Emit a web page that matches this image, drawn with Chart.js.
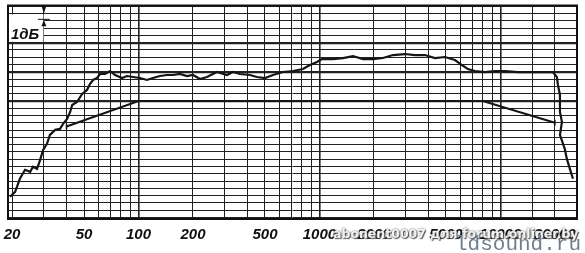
<!DOCTYPE html>
<html><head><meta charset="utf-8">
<script src="https://cdn.jsdelivr.net/npm/chart.js@4"></script>
<style>
html,body{margin:0;padding:0;background:#fff;}
#wrap{position:relative;width:585px;height:253px;overflow:hidden;}
canvas{display:block;}
.wm{position:absolute;white-space:nowrap;}
#wm1{left:333px;top:226px;font:bold 12.5px "DejaVu Sans",sans-serif;color:rgba(255,255,255,0.92);text-shadow:0 0 2px #444,1px 1px 1px #555;}
#wm2{left:455px;top:233px;font:21px "Liberation Mono","DejaVu Sans Mono",monospace;color:#6f7f8f;}
</style></head><body>
<div id="wrap"><canvas id="c" width="585" height="253"></canvas>
<div class="wm" id="wm1">abonent0007 для forum.onliner.by</div>
<div class="wm" id="wm2">ldsound.ru</div></div>
<script>
// Measured frequency response (Hz, dB)
const responseFreq = [19.5,20.8,22.1,23.6,25.2,26.1,27.5,28.6,29.7,31.2,32.4,34.6,36.8,38.3,40.3,41.9,43.0,45.7,48.8,51.9,53.9,56.1,59.0,61.3,65.3,69.6,74.2,81.1,86.4,93.3,101.9,111.4,120.2,131.4,143.6,155.1,169.5,185.3,200,218.8,238.8,271.4,308.3,332.6,363.8,413,451.6,500,553.4,628.3,713.6,810.5,886.7,968.9,1032,1188,1349,1532,1740,1976,2244,2548,2967,3370,3828,4347,4937,5607,6128,6611,7228,8210,9325,10590,12500,14930,17620,19500,20510,20800,21330,21330,21880,21330,22680,23300,24210,25170];
const responseDb = [-13.15,-12.47,-10.68,-9.45,-9.73,-9.04,-9.32,-8.08,-6.71,-5.89,-4.66,-3.97,-3.84,-3.15,-2.47,-1.51,-0.55,-0.14,0.96,1.51,2.33,2.88,3.15,3.70,3.70,4.11,3.56,3.15,3.42,3.29,3.15,2.88,3.15,3.42,3.56,3.56,3.70,3.42,3.56,3.01,3.29,3.97,3.56,3.97,3.70,3.56,3.29,3.15,3.56,3.97,4.11,4.38,4.93,5.34,5.75,5.75,5.89,6.16,5.75,5.75,5.89,6.30,6.44,6.30,6.30,5.89,6.03,5.62,4.93,4.38,4.11,3.97,4.11,4.11,3.97,3.97,3.97,3.97,3.29,2.19,0.82,-1.51,-2.88,-4.66,-6.58,-7.95,-9.32,-10.68];
// Tolerance template
const limitFreq = [40,100,8000,20000];
const limitDb = [-3.5,0,0,-3];
// Axes
const gridFreqs = [20,30,40,50,60,70,80,90,100,200,300,400,500,600,700,800,900,1000,2000,3000,4000,5000,6000,7000,8000,9000,10000,15000,20000];
const labelFreqs = [20,50,100,200,500,1000,2000,5000,10000,20000];
const heavyFreqs = [100,1000,10000];
const dbTicks = [-16,-15,-14,-13,-12,-11,-10,-9,-8,-7,-6,-5,-4,-3,-2,-1,0,1,2,3,4,5,6,7,8,9,10,11,12,13];
const thickDb = [0,4,8];
const scaleLabel = '1дБ';
const freqMin = 19, freqMax = 26500, dbMin = -16.2, dbMax = 13.1;

const decor = {
  id:'decor',
  beforeDatasetsDraw(chart){
    const {ctx, chartArea:a, scales:{x,y}} = chart;
    const xb = x.getPixelForValue(30);
    const yt = y.getPixelForValue(12), yb = y.getPixelForValue(8);
    ctx.save();
    ctx.fillStyle = '#fff';
    ctx.fillRect(a.left+1, yt+1, xb-a.left-1.5, yb-yt-2);
    ctx.fillStyle = '#111';
    ctx.font = 'italic bold 15px "Liberation Sans", sans-serif';
    ctx.textBaseline = 'alphabetic';
    ctx.fillText(scaleLabel, a.left+3, yb-4);
    // 1 dB marker
    const ym = y.getPixelForValue(11.2);
    ctx.strokeStyle = '#111'; ctx.lineWidth = 1;
    ctx.beginPath(); ctx.moveTo(xb-6, ym); ctx.lineTo(xb+6, ym); ctx.stroke();
    ctx.beginPath(); ctx.moveTo(xb-2.5, a.top); ctx.lineTo(xb+2.5, a.top); ctx.lineTo(xb, yt); ctx.closePath(); ctx.fill();
    ctx.beginPath(); ctx.moveTo(xb, ym+1); ctx.lineTo(xb-2.5, ym+7); ctx.lineTo(xb+2.5, ym+7); ctx.closePath(); ctx.fill();
    ctx.restore();
  },
  afterDraw(chart){
    const {ctx, chartArea:a} = chart;
    ctx.save(); ctx.strokeStyle='#111'; ctx.lineWidth=2;
    ctx.strokeRect(a.left, a.top, a.right-a.left, a.bottom-a.top);
    ctx.restore();
  }
};

new Chart(document.getElementById('c'), {
  type:'scatter',
  data:{datasets:[
    {data:responseFreq.map((f,i)=>({x:f,y:responseDb[i]})), showLine:true, borderColor:'#151515', borderWidth:2.2, pointRadius:0, tension:0},
    {data:limitFreq.map((f,i)=>({x:f,y:limitDb[i]})), showLine:true, borderColor:'#151515', borderWidth:2, pointRadius:[3,0,0,3], pointStyle:'line', rotation:90, pointBorderColor:'#151515', pointBorderWidth:1.5, tension:0}
  ]},
  options:{
    responsive:false, animation:false, devicePixelRatio:1,
    layout:{padding:{left:8,right:8,top:2,bottom:2}},
    plugins:{legend:{display:false}, tooltip:{enabled:false}},
    scales:{
      x:{type:'logarithmic', min:freqMin, max:freqMax,
        afterBuildTicks(s){ s.ticks = gridFreqs.map(v=>({value:v})); },
        afterFit(s){ s.paddingLeft = 0; s.paddingRight = 0; },
        ticks:{autoSkip:false, maxRotation:0, padding:7, color:'#111',
          font:{family:'"Liberation Sans Narrow","Liberation Sans",sans-serif', size:15, style:'italic', weight:'bold'},
          callback:(v)=> labelFreqs.includes(v) ? String(v) : ''},
        grid:{drawTicks:false, color:'#222', lineWidth:(c)=> heavyFreqs.includes(c.tick && c.tick.value) ? 1.6 : 1},
        border:{display:false}
      },
      y:{type:'linear', min:dbMin, max:dbMax,
        afterBuildTicks(s){ s.ticks = dbTicks.map(v=>({value:v})); },
        afterFit(s){ s.width = 0; },
        ticks:{display:false},
        grid:{drawTicks:false, color:'#222', lineWidth:(c)=> thickDb.includes(c.tick && c.tick.value) ? 2.2 : 1},
        border:{display:false}
      }
    }
  },
  plugins:[decor]
});
</script>
</body></html>
